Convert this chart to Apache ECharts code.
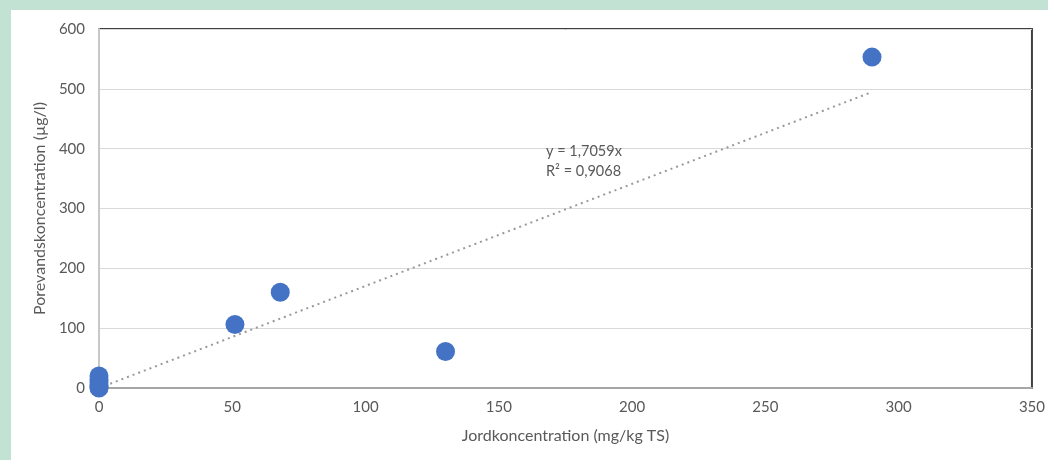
<!DOCTYPE html>
<html>
<head>
<meta charset="utf-8">
<script src="https://cdn.jsdelivr.net/npm/echarts@6/dist/echarts.min.js"></script>
<style>
html,body{margin:0;padding:0;background:#c2e3d4;}
#wrap{position:absolute;left:11px;top:10px;right:0;bottom:0;background:#fff;}
#chart{position:absolute;left:0;top:0;width:1048px;height:460px;}
</style>
</head>
<body>
<div id="wrap"></div>
<div id="chart"></div>
<script>
// Data
var soilConc = [0, 0, 0, 0, 0, 0, 51, 68, 130, 290];        // mg/kg TS
var poreConc = [0, 2, 5, 10, 14, 20, 106, 160, 61, 553];    // µg/l
var trendSlope = 1.7059;
var trendRange = [0, 290];
var eqLines = ['y = 1,7059x', 'R² = 0,9068'];
var xTicks = {min: 0, max: 350, interval: 50};
var yTicks = {min: 0, max: 600, interval: 100};
var xName = 'Jordkoncentration (mg/kg TS)';
var yName = 'Porevandskoncentration (µg/l)';

var points = soilConc.map(function (x, i) { return [x, poreConc[i]]; });
var trend = trendRange.map(function (x) { return [x, trendSlope * x]; });

var font = 'Lato, "Open Sans", sans-serif';
var chart = echarts.init(document.getElementById('chart'), null, {renderer: 'canvas'});
chart.setOption({
  backgroundColor: 'transparent',
  animation: false,
  textStyle: {fontFamily: font},
  grid: {left: 99, right: 12, top: 29, bottom: 72, show: true, borderColor: '#404040', borderWidth: 2, backgroundColor: 'transparent'},
  xAxis: {
    type: 'value', min: xTicks.min, max: xTicks.max, interval: xTicks.interval,
    name: xName, nameLocation: 'middle', nameGap: 40,
    nameTextStyle: {color: '#595959', fontSize: 16, fontFamily: font},
    axisLine: {show: true, onZero: false, lineStyle: {color: '#a6a6a6', width: 2}},
    axisTick: {show: false},
    axisLabel: {color: '#595959', fontSize: 15, margin: 12, fontFamily: font},
    splitLine: {show: false}
  },
  yAxis: {
    type: 'value', min: yTicks.min, max: yTicks.max, interval: yTicks.interval,
    name: yName, nameLocation: 'middle', nameGap: 42,
    nameTextStyle: {color: '#595959', fontSize: 16, fontFamily: font},
    axisLine: {show: true, onZero: false, lineStyle: {color: '#c8c8c8', width: 2}},
    axisTick: {show: false},
    axisLabel: {color: '#595959', fontSize: 15, margin: 14, fontFamily: font},
    splitLine: {show: true, lineStyle: {color: '#d9d9d9', width: 1}}
  },
  series: [
    {
      type: 'line', data: trend, symbol: 'none', silent: true, z: 1,
      lineStyle: {color: '#999999', width: 2, type: [2, 4]}
    },
    {
      type: 'scatter', data: points, symbol: 'circle', symbolSize: 19, z: 3,
      itemStyle: {color: '#4472c4', opacity: 1}
    }
  ],
  graphic: [{
    type: 'text', left: 546, top: 141, z: 10,
    style: {text: eqLines.join('\n'), fill: '#595959', font: '14.5px ' + font, lineHeight: 20}
  }]
});
</script>
</body>
</html>
